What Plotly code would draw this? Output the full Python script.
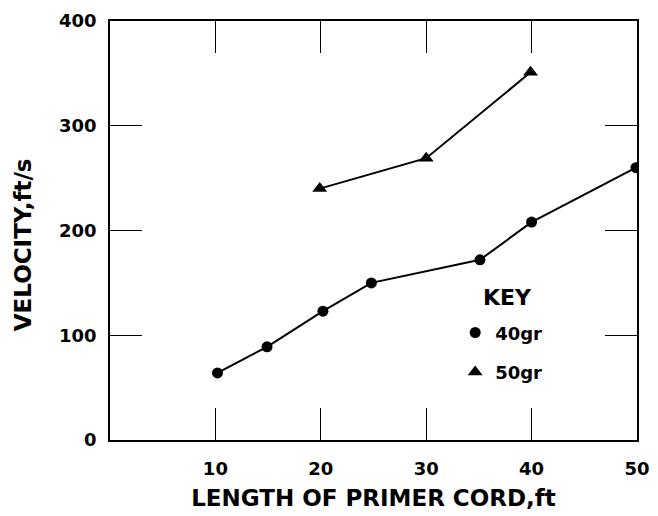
import plotly.graph_objects as go

# Data
length_40gr = [10.2, 14.9, 20.2, 24.8, 35.1, 40.0, 49.9]
velocity_40gr = [64, 89, 123, 150, 172, 208, 260]

length_50gr = [19.9, 30.0, 39.9]
velocity_50gr = [240, 269, 351]

x_ticks = [10, 20, 30, 40, 50]
y_ticks = [0, 100, 200, 300, 400]

FONT = "DejaVu Sans, Liberation Sans, Arial, sans-serif"

fig = go.Figure()

# connecting lines (not in key)
fig.add_trace(go.Scatter(x=length_40gr, y=velocity_40gr, mode="lines",
                         line=dict(color="black", width=2), showlegend=False,
                         hoverinfo="skip"))
fig.add_trace(go.Scatter(x=length_50gr, y=velocity_50gr, mode="lines",
                         line=dict(color="black", width=2), showlegend=False,
                         hoverinfo="skip"))
# markers (in key)
fig.add_trace(go.Scatter(x=length_40gr, y=velocity_40gr, mode="markers", name="40gr",
                         legendgroup="a",
                         marker=dict(symbol="circle", size=11, color="black")))
fig.add_trace(go.Scatter(x=length_50gr, y=velocity_50gr, mode="markers", name="50gr",
                         legendgroup="b",
                         marker=dict(symbol="triangle-up", size=13, color="black")))

axis_common = dict(
    showgrid=False, zeroline=False, showline=True, linecolor="black", linewidth=1.5,
    ticks="inside", ticklen=32, tickwidth=1.2, tickcolor="black", mirror="ticks",
    automargin=False,
    tickfont=dict(family=FONT, size=18, color="black", weight="bold"),
)

fig.update_xaxes(range=[0, 50], tickvals=x_ticks, ticktext=[str(v) for v in x_ticks],
                 ticklabelstandoff=12,
                 title=dict(text="LENGTH OF PRIMER CORD,ft", standoff=12,
                            font=dict(family=FONT, size=23, color="black", weight="bold")),
                 **axis_common)
fig.update_yaxes(range=[0, 400], tickvals=y_ticks, ticktext=[str(v) for v in y_ticks],
                 ticklabelstandoff=8, **axis_common)

# y-axis title placed as in the reference (slightly below centre)
fig.add_annotation(text="VELOCITY,ft/s", xref="paper", yref="paper", x=-0.165, y=0.465,
                   xanchor="center", yanchor="middle", textangle=-90, showarrow=False,
                   font=dict(family=FONT, size=23, color="black", weight="bold"))

fig.add_annotation(text="KEY", xref="paper", yref="paper", x=0.755, y=0.341,
                   xanchor="center", yanchor="middle", showarrow=False,
                   font=dict(family=FONT, size=22, color="black", weight="bold"))

fig.update_layout(
    width=650, height=508,
    margin=dict(l=102, r=21, t=13, b=76),
    paper_bgcolor="white", plot_bgcolor="white",
    legend=dict(
        x=0.655, y=0.30, xanchor="left", yanchor="top",
        bgcolor="rgba(0,0,0,0)",
        font=dict(family=FONT, size=18, color="black", weight="bold"),
        tracegroupgap=13, itemwidth=30,
    ),
)

fig.write_html("out.html")
